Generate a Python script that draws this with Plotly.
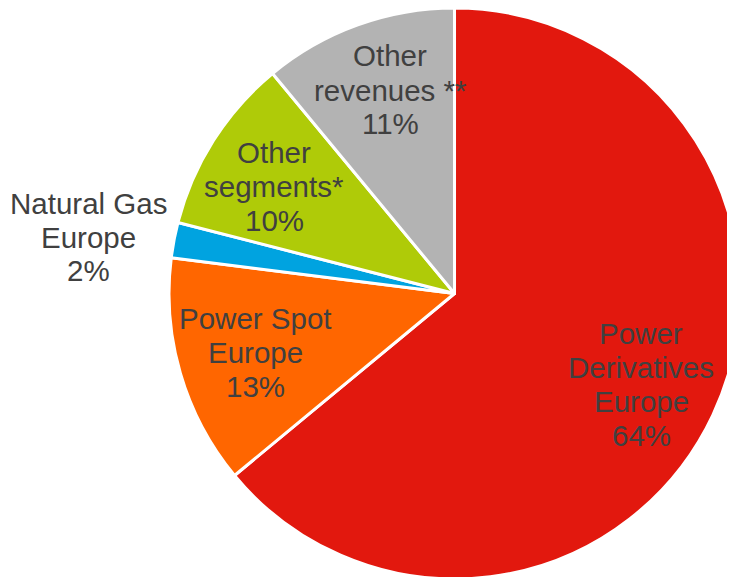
import plotly.graph_objects as go

# Data
categories = ["Power Derivatives Europe", "Power Spot Europe", "Natural Gas Europe",
              "Other segments*", "Other revenues **"]
values = [64, 13, 2, 10, 11]
label_lines = [
    ["Power", "Derivatives", "Europe"],
    ["Power Spot", "Europe"],
    ["Natural Gas", "Europe"],
    ["Other", "segments*"],
    ["Other", "revenues **"],
]
colors = ["#E2180E", "#FF6600", "#00A3E0", "#AFCB08", "#B3B3B3"]

# Label placement (pixel centers of first line, in page coordinates)
label_pos = [(641, 333), (256, 318), (88, 203), (274, 152), (390, 56)]

W, H = 735, 577
OFF = 8  # page body margin
LINE = 34

fig = go.Figure(go.Pie(
    labels=categories,
    values=values,
    sort=False,
    direction="clockwise",
    rotation=0,
    marker=dict(colors=colors, line=dict(color="white", width=3)),
    textinfo="none",
    hoverinfo="label+percent",
    showlegend=False,
    domain=dict(x=[0.219, 0.996], y=[0.0104, 1.0]),
))

annotations = []
for lines, v, (px, py) in zip(label_lines, values, label_pos):
    all_lines = lines + [f"{v}%"]
    for i, t in enumerate(all_lines):
        annotations.append(dict(
            x=(px - OFF) / W, y=1 - (py - OFF + i * LINE) / H,
            xref="paper", yref="paper",
            text=t, showarrow=False,
            xanchor="center", yanchor="middle",
            font=dict(family="Liberation Sans, Arial, sans-serif", size=29.5, color="#404040"),
        ))

fig.update_layout(
    width=W, height=H,
    margin=dict(l=0, r=0, t=0, b=0),
    paper_bgcolor="white",
    plot_bgcolor="white",
    annotations=annotations,
)

fig.write_html("out.html")
